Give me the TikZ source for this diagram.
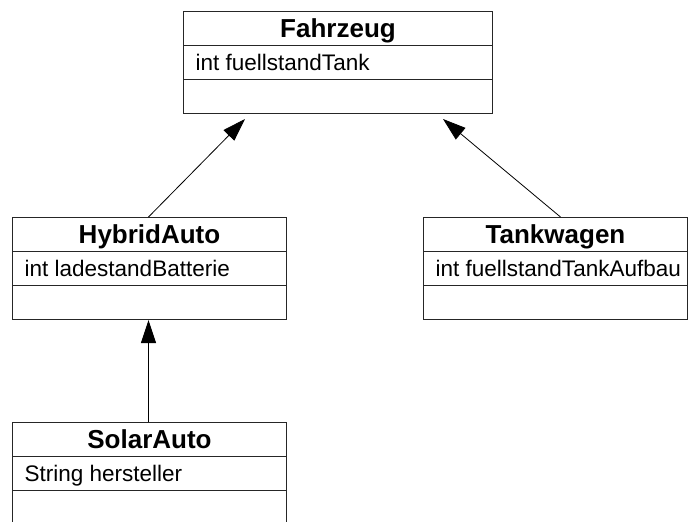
\documentclass[tikz,border=0pt]{standalone}
\usepackage{fontspec}
\setmainfont{Liberation Sans}
\usetikzlibrary{arrows.meta}
\begin{document}
\begin{tikzpicture}[x=1pt,y=-1pt,
  classbox/.style={draw=black!85, line width=1pt, minimum height=102pt, inner sep=0pt, anchor=north west},
  sepline/.style={draw=black!85, line width=1pt},
  titletext/.style={anchor=base, inner sep=0pt, font=\fontsize{26}{26}\selectfont\bfseries},
  attrtext/.style={anchor=base west, inner sep=0pt, font=\fontsize{22.5}{22.5}\selectfont},
  inherit/.style={line width=0.8pt, -{Triangle[length=23pt,width=15pt]}}]
\useasboundingbox (0,0) rectangle (689,522);
\clip (0,0) rectangle (689,522);

% Fahrzeug
\node[classbox, minimum width=309pt] (fz) at (183,11) {};
\draw[sepline] ([yshift=-34pt]fz.north west) -- ([yshift=-34pt]fz.north east);
\draw[sepline] ([yshift=-68pt]fz.north west) -- ([yshift=-68pt]fz.north east);
\node[titletext] (fzt) at ([yshift=-26.3pt]fz.north) {Fahrzeug};
\node[attrtext] (fza) at ([xshift=12.5pt,yshift=-59pt]fz.north west) {int fuellstandTank};

% HybridAuto
\node[classbox, minimum width=274pt] (ha) at (12,217) {};
\draw[sepline] ([yshift=-34pt]ha.north west) -- ([yshift=-34pt]ha.north east);
\draw[sepline] ([yshift=-68pt]ha.north west) -- ([yshift=-68pt]ha.north east);
\node[titletext] (hat) at ([yshift=-26.3pt]ha.north) {HybridAuto};
\node[attrtext] (haa) at ([xshift=12.5pt,yshift=-59pt]ha.north west) {int ladestandBatterie};

% Tankwagen
\node[classbox, minimum width=264pt] (tw) at (423,217) {};
\draw[sepline] ([yshift=-34pt]tw.north west) -- ([yshift=-34pt]tw.north east);
\draw[sepline] ([yshift=-68pt]tw.north west) -- ([yshift=-68pt]tw.north east);
\node[titletext] (twt) at ([yshift=-26.3pt]tw.north) {Tankwagen};
\node[attrtext] (twa) at ([xshift=12.5pt,yshift=-59pt]tw.north west) {int fuellstandTankAufbau};

% SolarAuto
\node[classbox, minimum width=274pt] (sa) at (12,422) {};
\draw[sepline] ([yshift=-34pt]sa.north west) -- ([yshift=-34pt]sa.north east);
\draw[sepline] ([yshift=-68pt]sa.north west) -- ([yshift=-68pt]sa.north east);
\node[titletext] (sat) at ([yshift=-26.3pt]sa.north) {SolarAuto};
\node[attrtext] (saa) at ([xshift=12.5pt,yshift=-59pt]sa.north west) {String hersteller};

% inheritance arrows
\draw[inherit] ([xshift=-1pt]ha.north) -- ([xshift=62pt,yshift=-5pt]fz.south west);
\draw[inherit] ([xshift=5pt]tw.north) -- ([xshift=260pt,yshift=-5pt]fz.south west);
\draw[inherit] ([xshift=-1pt]sa.north) -- ([xshift=-1pt]ha.south);
\end{tikzpicture}
\end{document}
